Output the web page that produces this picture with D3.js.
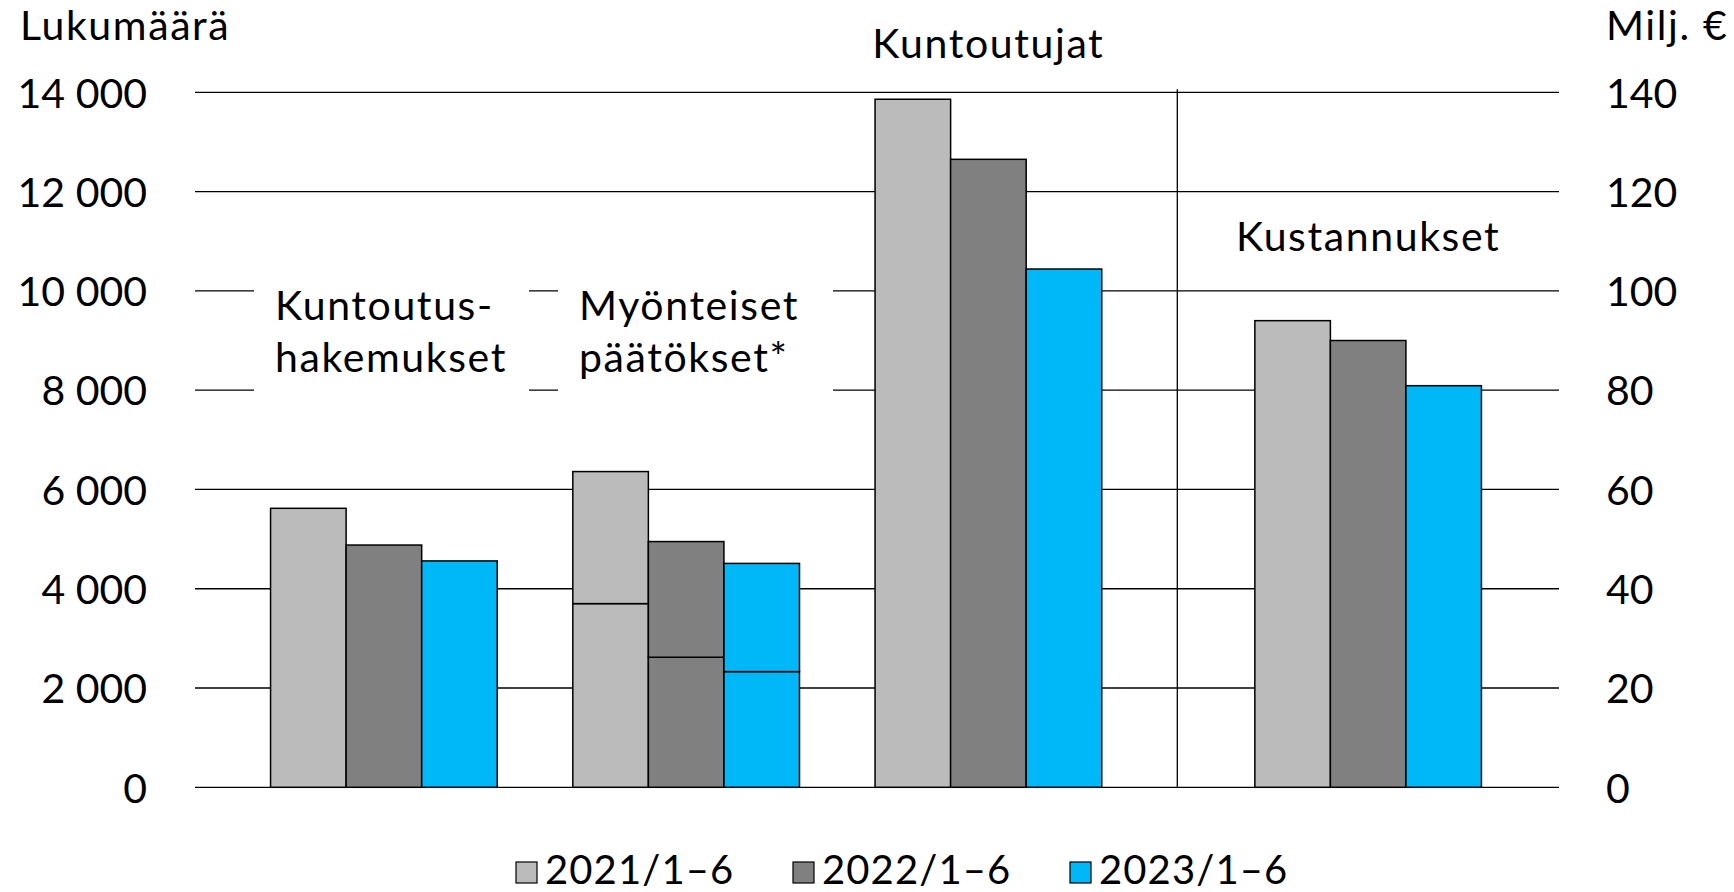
<!DOCTYPE html>
<html>
<head>
<meta charset="utf-8">
<script src="https://cdn.jsdelivr.net/npm/d3@7"></script>
<style>
  body { margin: 0; background: #fff; }
  svg { display: block; font-family: Lato, "Open Sans", sans-serif; }
  .grid line { stroke: #000; stroke-width: 1.3; }
  .bar { stroke: #000; stroke-width: 1.5; }
  .word { letter-spacing: 1.6px; }
</style>
</head>
<body>
<svg class="chart"></svg>
<script>
// DATA /////////////////////////////////////////
const years = ["2021/1–6", "2022/1–6", "2023/1–6"];
const colors = ["#bbbbbb", "#808080", "#00b7f7"];
const groups = ["Kuntoutushakemukset", "Myönteiset päätökset", "Kuntoutujat"];
const hakemukset = [5620, 4880, 4560];
const myonteisetAla = [3700, 2620, 2330];
const myonteisetYla = [2660, 2330, 2180];
const kuntoutujat = [13860, 12650, 10440];
const kustannukset = [94.0, 90.0, 80.9];
const leftTicks = [0, 2000, 4000, 6000, 8000, 10000, 12000, 14000];
const rightTicks = [0, 20, 40, 60, 80, 100, 120, 140];

// DEFINITIONS /////////////////////////////////
const width = 1734;
const height = 892;
const plot = { left: 195, right: 1559, split: 1177.3, top: 92.3, bottom: 787.3 };

const svg = d3.select(".chart").attr("width", width).attr("height", height);

const yLeft = d3.scaleLinear().domain([0, 14000]).range([plot.bottom, plot.top]);
const yRight = d3.scaleLinear().domain([0, 140]).range([plot.bottom, plot.top]);

const xGroup = d3.scaleBand().domain(groups).range([plot.left, plot.split]).padding(0.25);
const xCost = d3.scaleBand().domain(["Kustannukset"]).range([plot.split, plot.right]).padding(0.255);
const xYear = d3.scaleBand().domain(years).range([0, xGroup.bandwidth()]);
const xYearCost = d3.scaleBand().domain(years).range([0, xCost.bandwidth()]);

const fi = d3.formatLocale({ decimal: ",", thousands: "\u00a0", grouping: [3], currency: ["", " €"] });
const fmt = fi.format(",d");

// GRIDLINES ///////////////////////////////////
svg.append("g")
  .attr("class", "grid")
  .selectAll("line")
  .data(leftTicks)
  .enter()
  .append("line")
  .attr("x1", plot.left)
  .attr("x2", plot.right)
  .attr("y1", (d) => yLeft(d))
  .attr("y2", (d) => yLeft(d));

svg.append("line")
  .attr("x1", plot.split)
  .attr("x2", plot.split)
  .attr("y1", plot.top - 3)
  .attr("y2", plot.bottom)
  .attr("stroke", "#000")
  .attr("stroke-width", 1.3);

// AXES ////////////////////////////////////////
const leftAxis = svg.append("g")
  .attr("transform", `translate(${plot.left},0)`)
  .call(d3.axisLeft(yLeft).tickValues(leftTicks).tickSize(0).tickPadding(48).tickFormat(fmt));
const rightAxis = svg.append("g")
  .attr("transform", `translate(${plot.right},0)`)
  .call(d3.axisRight(yRight).tickValues(rightTicks).tickSize(0).tickPadding(47));

[leftAxis, rightAxis].forEach((ax) => {
  ax.select(".domain").remove();
  ax.selectAll("text")
    .attr("font-family", "Lato, sans-serif")
    .attr("font-size", 41)
    .attr("fill", "#000")
    .attr("dy", "0.36em");
});

svg.append("text")
  .attr("class", "word")
  .attr("x", 20)
  .attr("y", 40)
  .attr("font-size", 41)
  .text("Lukumäärä");
svg.append("text")
  .attr("class", "word")
  .attr("x", 1606)
  .attr("y", 40)
  .attr("font-size", 41)
  .text("Milj. €");

// BARS ////////////////////////////////////////
const drawBars = (name, values, xg, xy, y, base) => {
  svg.append("g")
    .selectAll("rect")
    .data(values)
    .enter()
    .append("rect")
    .attr("class", "bar")
    .attr("x", (d, i) => xg(name) + xy(years[i]))
    .attr("width", xy.bandwidth())
    .attr("y", (d, i) => y(d + (base ? base[i] : 0)))
    .attr("height", (d, i) => y(base ? base[i] : 0) - y(d + (base ? base[i] : 0)))
    .attr("fill", (d, i) => colors[i]);
};

drawBars(groups[0], hakemukset, xGroup, xYear, yLeft);
drawBars(groups[1], myonteisetAla, xGroup, xYear, yLeft);
drawBars(groups[1], myonteisetYla, xGroup, xYear, yLeft, myonteisetAla);
drawBars(groups[2], kuntoutujat, xGroup, xYear, yLeft);
drawBars("Kustannukset", kustannukset, xCost, xYearCost, yRight);

// LABELS //////////////////////////////////////
const labelBox = (x, lines) => {
  svg.append("rect")
    .attr("x", x - 21)
    .attr("y", 268)
    .attr("width", 275)
    .attr("height", 130)
    .attr("fill", "#fff");
  svg.append("text")
    .attr("class", "word")
    .attr("font-size", 41)
    .selectAll("tspan")
    .data(lines)
    .enter()
    .append("tspan")
    .attr("x", x)
    .attr("y", (d, i) => 320 + i * 52)
    .text((d) => d);
};
labelBox(275, ["Kuntoutus-", "hakemukset"]);
labelBox(579, ["Myönteiset", "päätökset*"]);

svg.append("text")
  .attr("class", "word")
  .attr("x", xGroup(groups[2]) + xGroup.bandwidth() / 2)
  .attr("y", 58)
  .attr("text-anchor", "middle")
  .attr("font-size", 41)
  .text("Kuntoutujat");
svg.append("text")
  .attr("class", "word")
  .attr("x", xCost("Kustannukset") + xCost.bandwidth() / 2)
  .attr("y", 251)
  .attr("text-anchor", "middle")
  .attr("font-size", 41)
  .text("Kustannukset");

// LEGEND //////////////////////////////////////
const legend = svg.append("g")
  .selectAll("g")
  .data(years)
  .enter()
  .append("g")
  .attr("transform", (d, i) => `translate(${516 + i * 277}, 862)`);

legend.append("rect")
  .attr("width", 21)
  .attr("height", 21)
  .attr("fill", (d, i) => colors[i])
  .attr("stroke", "#000")
  .attr("stroke-width", 1.2);

legend.append("text")
  .attr("x", 29)
  .attr("y", 22)
  .attr("font-size", 40)
  .style("letter-spacing", "1.1px")
  .text((d) => d);
</script>
</body>
</html>
